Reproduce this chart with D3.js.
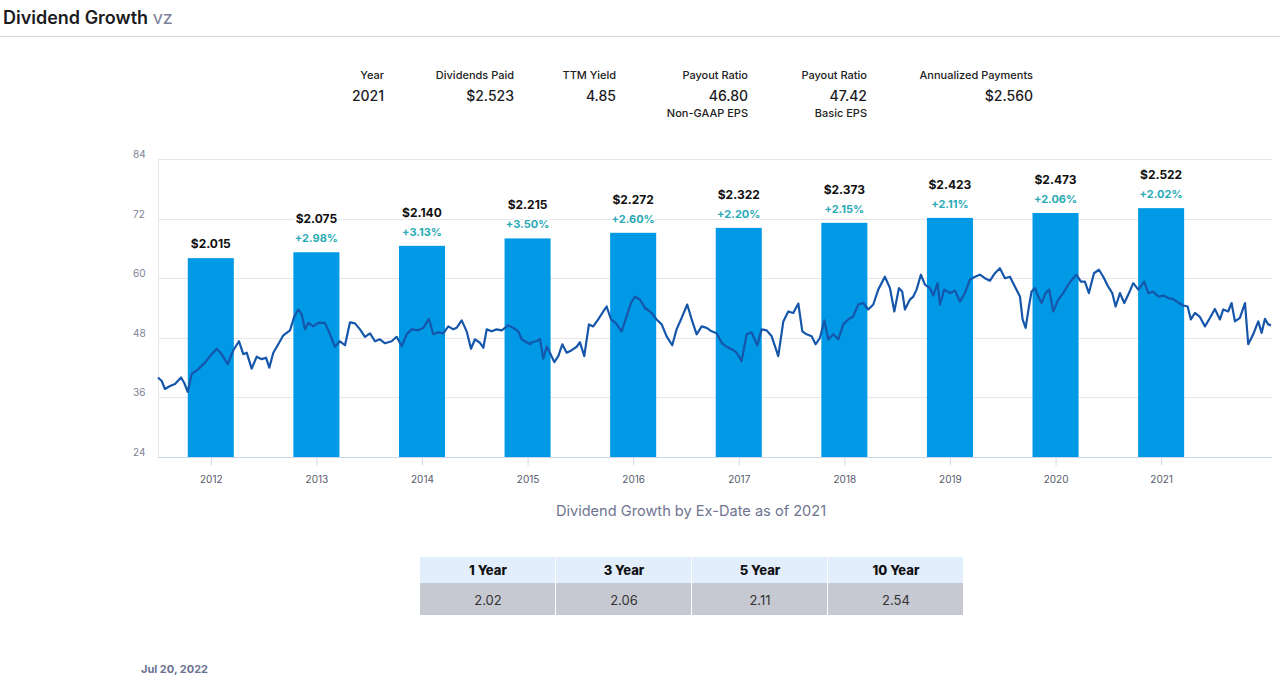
<!DOCTYPE html>
<html>
<head>
<meta charset="utf-8">
<script src="https://cdn.jsdelivr.net/npm/d3@7"></script>
<style>
  html, body { margin: 0; padding: 0; background: #fff; }
  svg { display: block; font-family: Inter, "Noto Sans", sans-serif; }
</style>
</head>
<body>
<svg id="chart" width="1280" height="690"></svg>
<script>
// ---------------- DATA ----------------
const years = [2012, 2013, 2014, 2015, 2016, 2017, 2018, 2019, 2020, 2021];
const dividends = [2.015, 2.075, 2.140, 2.215, 2.272, 2.322, 2.373, 2.423, 2.473, 2.522];
const growthPct = [null, 2.98, 3.13, 3.50, 2.60, 2.20, 2.15, 2.11, 2.06, 2.02];
const priceTicks = [24, 36, 48, 60, 72, 84];

const summaryHeaders = ["Year", "Dividends Paid", "TTM Yield", "Payout Ratio", "Payout Ratio", "Annualized Payments"];
const summaryValues = ["2021", "$2.523", "4.85", "46.80", "47.42", "$2.560"];
const summarySubs = ["", "", "", "Non-GAAP EPS", "Basic EPS", ""];

const tableHeaders = ["1 Year", "3 Year", "5 Year", "10 Year"];
const tableValues = ["2.02", "2.06", "2.11", "2.54"];

// share price (decimal year, price)
const priceSeries = [
[2012.000,40.0],[2012.035,39.3],[2012.066,37.7],[2012.114,38.3],[2012.161,38.7],[2012.218,40.0],[2012.249,38.9],[2012.281,37.1],
[2012.319,40.7],[2012.382,41.7],[2012.445,43.0],[2012.492,44.3],[2012.556,45.8],[2012.603,44.7],[2012.660,42.7],[2012.713,45.5],
[2012.767,47.3],[2012.808,44.7],[2012.840,45.0],[2012.887,41.8],[2012.935,44.2],[2012.982,43.7],[2013.023,44.0],[2013.054,42.0],
[2013.092,45.0],[2013.139,46.7],[2013.187,48.5],[2013.250,49.5],[2013.291,52.3],[2013.329,53.7],[2013.361,52.7],[2013.392,49.7],
[2013.424,51.0],[2013.471,50.3],[2013.518,51.0],[2013.581,51.0],[2013.629,48.7],[2013.676,46.2],[2013.723,47.3],[2013.771,46.5],
[2013.818,51.1],[2013.866,50.9],[2013.913,49.7],[2013.960,48.2],[2014.008,48.9],[2014.055,47.3],[2014.102,47.7],[2014.150,46.9],
[2014.213,47.3],[2014.260,48.2],[2014.308,46.3],[2014.355,48.7],[2014.402,49.7],[2014.465,49.5],[2014.513,50.0],[2014.566,51.8],
[2014.607,48.7],[2014.654,49.1],[2014.702,48.9],[2014.749,50.3],[2014.797,49.7],[2014.828,50.0],[2014.876,51.5],[2014.923,49.3],
[2014.964,45.8],[2015.002,47.7],[2015.049,47.0],[2015.081,46.0],[2015.113,49.7],[2015.160,49.3],[2015.207,49.7],[2015.255,49.5],
[2015.317,50.5],[2015.365,50.0],[2015.412,49.3],[2015.444,47.7],[2015.491,47.1],[2015.523,46.7],[2015.539,47.1],[2015.586,47.3],
[2015.617,47.8],[2015.649,43.8],[2015.681,46.2],[2015.712,45.0],[2015.753,43.1],[2015.791,44.3],[2015.829,46.7],[2015.870,45.0],
[2015.918,45.5],[2015.965,46.2],[2015.996,47.1],[2016.037,44.3],[2016.081,50.7],[2016.122,50.3],[2016.169,51.7],[2016.217,53.3],
[2016.249,54.3],[2016.290,51.7],[2016.334,51.0],[2016.391,49.3],[2016.438,52.3],[2016.479,55.0],[2016.517,56.3],[2016.564,55.7],
[2016.612,54.0],[2016.675,53.0],[2016.722,51.7],[2016.770,50.7],[2016.817,48.3],[2016.870,46.5],[2016.911,49.7],[2016.959,52.0],
[2017.012,54.7],[2017.054,51.7],[2017.101,48.7],[2017.149,50.3],[2017.196,50.0],[2017.243,49.3],[2017.291,48.9],[2017.338,47.0],
[2017.385,46.2],[2017.433,45.7],[2017.480,45.0],[2017.527,43.3],[2017.575,48.7],[2017.622,49.1],[2017.675,46.5],[2017.717,49.7],
[2017.764,49.5],[2017.812,48.3],[2017.874,44.3],[2017.922,51.3],[2017.969,53.3],[2018.016,53.0],[2018.064,54.9],[2018.102,49.3],
[2018.143,48.7],[2018.190,48.3],[2018.228,46.7],[2018.269,48.0],[2018.310,51.5],[2018.348,47.7],[2018.395,48.7],[2018.442,47.7],
[2018.490,50.7],[2018.537,51.7],[2018.584,52.3],[2018.632,54.7],[2018.679,55.0],[2018.726,53.7],[2018.774,54.7],[2018.821,57.7],
[2018.884,60.3],[2018.932,58.0],[2018.973,53.3],[2019.017,58.0],[2019.048,57.3],[2019.074,53.7],[2019.121,55.7],[2019.153,56.3],
[2019.184,57.7],[2019.225,60.7],[2019.263,58.7],[2019.311,58.0],[2019.342,56.5],[2019.383,59.0],[2019.405,54.7],[2019.446,57.7],
[2019.500,57.0],[2019.547,57.5],[2019.595,55.3],[2019.642,57.0],[2019.689,59.7],[2019.737,60.3],[2019.784,60.7],[2019.831,60.0],
[2019.879,59.5],[2019.926,61.0],[2019.973,62.0],[2020.021,60.0],[2020.068,60.3],[2020.116,58.3],[2020.163,56.3],[2020.188,51.7],
[2020.217,50.0],[2020.248,54.3],[2020.273,57.3],[2020.305,58.0],[2020.336,56.3],[2020.368,55.0],[2020.406,57.0],[2020.440,57.7],
[2020.478,53.3],[2020.526,55.7],[2020.573,57.0],[2020.620,58.7],[2020.667,60.0],[2020.699,60.7],[2020.740,59.3],[2020.778,59.3],
[2020.816,57.0],[2020.864,61.0],[2020.911,61.7],[2020.952,60.3],[2020.999,58.3],[2021.037,57.0],[2021.069,54.3],[2021.110,57.0],
[2021.151,55.0],[2021.189,56.7],[2021.236,59.0],[2021.284,57.7],[2021.340,59.3],[2021.378,57.0],[2021.425,57.3],[2021.473,56.3],
[2021.520,56.5],[2021.567,56.0],[2021.615,55.8],[2021.662,55.1],[2021.709,54.5],[2021.751,54.3],[2021.782,51.7],[2021.820,53.0],
[2021.867,52.2],[2021.915,50.3],[2021.962,52.0],[2022.009,53.8],[2022.057,51.7],[2022.088,53.7],[2022.135,53.3],[2022.167,55.0],
[2022.199,51.3],[2022.246,52.0],[2022.294,55.0],[2022.325,46.7],[2022.372,48.7],[2022.420,51.3],[2022.452,49.0],[2022.483,51.8],
[2022.514,50.7],[2022.540,50.5]
];

// ---------------- DRAW ----------------
const svg = d3.select("#chart");
const W = 1280;

// header
const title = svg.append("text").attr("x", 3).attr("y", 24)
  .attr("font-size", 18).attr("font-weight", 600).attr("fill", "#1b1b1f");
title.append("tspan").text("Dividend Growth ");
title.append("tspan").attr("fill", "#7a8199").attr("font-weight", 400).text("vz");
svg.append("line").attr("x1", 0).attr("x2", W).attr("y1", 36.5).attr("y2", 36.5)
  .attr("stroke", "#d3d7de").attr("stroke-width", 1);

// summary
const summaryRight = [384, 514, 616, 748, 867, 1033];
summaryHeaders.forEach((h, i) => {
  const x = summaryRight[i];
  svg.append("text").attr("x", x).attr("y", 79).attr("text-anchor", "end")
    .attr("font-size", 11).attr("font-weight", 500).attr("fill", "#222").text(h);
  svg.append("text").attr("x", x).attr("y", 101).attr("text-anchor", "end")
    .attr("font-size", 14).attr("font-weight", 500).attr("fill", "#1b1b1f").text(summaryValues[i]);
  if (summarySubs[i]) svg.append("text").attr("x", x).attr("y", 117).attr("text-anchor", "end")
    .attr("font-size", 11).attr("font-weight", 500).attr("fill", "#222").text(summarySubs[i]);
});

// scales
const plotL = 158, plotR = 1272, plotT = 159, plotB = 457;
const x = d3.scaleLinear().domain([2012, 2022.55]).range([plotL, plotR]);
const yPrice = d3.scaleLinear().domain([24, 84]).range([plotB, plotT]);
const yDiv = d3.scaleLinear().domain([0, 3.02]).range([plotB, plotT]);

// grid
const grid = svg.append("g");
grid.selectAll("line").data(priceTicks).join("line")
  .attr("x1", plotL).attr("x2", plotR)
  .attr("y1", d => Math.round(yPrice(d)) + 0.5).attr("y2", d => Math.round(yPrice(d)) + 0.5)
  .attr("stroke", "#e6e6ea").attr("stroke-width", 1);
svg.append("line").attr("x1", plotL + 0.5).attr("x2", plotL + 0.5).attr("y1", plotT).attr("y2", plotB)
  .attr("stroke", "#e6e6ea");

// y labels
svg.append("g").selectAll("text").data(priceTicks).join("text")
  .attr("x", 133).attr("y", d => yPrice(d) - 1)
  .attr("font-size", 10).attr("fill", "#7d8296").text(d => d);

// bars
const bw = (x(2013.5) - x(2012.5)) * 0.436;
svg.append("g").selectAll("rect").data(years).join("rect")
  .attr("x", d => x(d + 0.5) - bw / 2)
  .attr("width", bw)
  .attr("y", (d, i) => yDiv(dividends[i]))
  .attr("height", (d, i) => plotB - yDiv(dividends[i]))
  .attr("fill", "#0099e6");

// price line
const line = d3.line().x(d => x(d[0])).y(d => yPrice(d[1]));
svg.append("path").datum(priceSeries).attr("d", line)
  .attr("fill", "none").attr("stroke", "#1556ab").attr("stroke-width", 2.2)
  .attr("stroke-linejoin", "round");

// x axis
const xAxis = d3.axisBottom(x).tickValues(years.map(y => y + 0.5))
  .tickFormat(d => Math.floor(d)).tickSize(8).tickPadding(10);
const gx = svg.append("g").attr("transform", `translate(0,${plotB + 0.5})`).call(xAxis);
gx.select(".domain").attr("stroke", "#ccd6eb").attr("d", `M${plotL},0H${plotR}`);
gx.selectAll(".tick line").attr("stroke", "#ccd6eb");
gx.selectAll(".tick text").attr("font-size", 10).attr("fill", "#555a6b")
  .attr("font-family", "Inter, sans-serif");

// bar labels
const lbl = svg.append("g");
years.forEach((yr, i) => {
  const cx = x(yr + 0.5);
  const top = yDiv(dividends[i]);
  const hasPct = growthPct[i] !== null;
  if (hasPct) {
    lbl.append("text").attr("x", cx).attr("y", top - 10).attr("text-anchor", "middle")
      .attr("font-size", 11).attr("font-weight", 700).attr("fill", "#2aaab5")
      .attr("stroke", "#fff").attr("stroke-width", 3).attr("paint-order", "stroke")
      .text("+" + growthPct[i].toFixed(2) + "%");
  }
  lbl.append("text").attr("x", cx).attr("y", top - (hasPct ? 29 : 10)).attr("text-anchor", "middle")
    .attr("font-size", 12).attr("font-weight", 700).attr("fill", "#111")
    .attr("stroke", "#fff").attr("stroke-width", 3).attr("paint-order", "stroke")
    .text("$" + dividends[i].toFixed(3));
});

// caption
svg.append("text").attr("x", 691).attr("y", 516).attr("text-anchor", "middle")
  .attr("font-size", 14.6).attr("fill", "#6e7491").text("Dividend Growth by Ex-Date as of 2021");

// table
const tx = d3.scaleBand().domain(tableHeaders).range([420, 964]);
const tbl = svg.append("g");
tbl.selectAll("rect.h").data(tableHeaders).join("rect").attr("class", "h")
  .attr("x", d => tx(d)).attr("y", 557).attr("width", tx.bandwidth() - 1).attr("height", 26)
  .attr("fill", "#e2eefc");
tbl.selectAll("rect.v").data(tableHeaders).join("rect").attr("class", "v")
  .attr("x", d => tx(d)).attr("y", 583).attr("width", tx.bandwidth() - 1).attr("height", 32)
  .attr("fill", "#c6c8d2");
tbl.selectAll("text.h").data(tableHeaders).join("text").attr("class", "h")
  .attr("x", d => tx(d) + tx.bandwidth() / 2).attr("y", 575).attr("text-anchor", "middle")
  .attr("font-size", 13).attr("font-weight", 800).attr("fill", "#111").text(d => d);
tbl.selectAll("text.v").data(tableValues).join("text").attr("class", "v")
  .attr("x", (d, i) => tx(tableHeaders[i]) + tx.bandwidth() / 2).attr("y", 605).attr("text-anchor", "middle")
  .attr("font-size", 13).attr("fill", "#333").text(d => d);

// footer
svg.append("text").attr("x", 141).attr("y", 673)
  .attr("font-size", 11).attr("font-weight", 700).attr("fill", "#6b7190").text("Jul 20, 2022");
</script>
</body>
</html>
